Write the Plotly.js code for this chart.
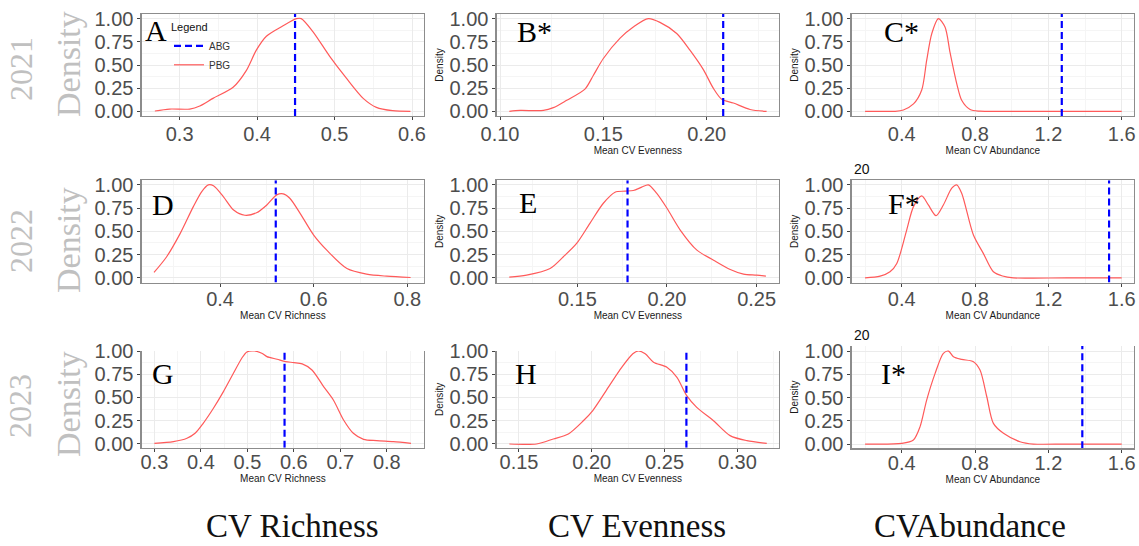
<!DOCTYPE html>
<html>
<head>
<meta charset="utf-8">
<script src="https://cdn.plot.ly/plotly-3.0.1.min.js"></script>
<style>html,body{margin:0;padding:0;background:#fff;}#chart{width:1139px;height:546px;}</style>
</head>
<body>
<div id="chart"></div>
<script>
// ---- data (normalised density) ----
const xA = [0.268,0.287,0.313,0.326,0.343,0.369,0.386,0.399,0.412,0.433,0.451,0.457,0.472,0.494,0.515,0.537,0.554,0.575,0.598];
const yA = [0.004,0.025,0.025,0.058,0.14,0.26,0.44,0.66,0.81,0.92,1.0,1.0,0.86,0.59,0.36,0.14,0.043,0.007,0.0];
const xB = [0.1045,0.1097,0.121,0.1258,0.1323,0.1411,0.1452,0.15,0.1581,0.1645,0.1718,0.1774,0.1855,0.1919,0.1984,0.2032,0.2073,0.2129,0.221,0.229];
const yB = [0,0.01,0.01,0.04,0.12,0.24,0.39,0.57,0.79,0.91,1.0,0.96,0.84,0.66,0.45,0.25,0.13,0.09,0.02,0.0];
const xC = [0.2,0.3,0.364,0.409,0.464,0.509,0.536,0.564,0.6,0.636,0.664,0.7,0.727,0.773,0.827,1.0,1.3,1.6];
const yC = [0,0,0,0.015,0.08,0.23,0.55,0.84,1.0,0.91,0.63,0.30,0.12,0.02,0.002,0,0,0];
const xD = [0.259,0.286,0.315,0.343,0.361,0.375,0.386,0.407,0.429,0.453,0.478,0.5,0.521,0.535,0.549,0.571,0.6,0.628,0.671,0.713,0.756,0.807];
const yD = [0.058,0.227,0.478,0.766,0.928,1.0,0.99,0.874,0.73,0.673,0.70,0.784,0.892,0.903,0.856,0.694,0.46,0.298,0.10,0.04,0.018,0.004];
const xE = [0.112,0.1217,0.1348,0.1422,0.1496,0.157,0.1645,0.171,0.1766,0.1812,0.1859,0.1896,0.1942,0.2,0.2074,0.2167,0.226,0.2353,0.2427,0.25,0.2552];
const yE = [0.007,0.029,0.10,0.227,0.37,0.586,0.802,0.921,0.932,0.939,0.975,1.0,0.91,0.748,0.514,0.298,0.19,0.09,0.04,0.029,0.018];
const xF = [0.2,0.282,0.336,0.373,0.427,0.464,0.509,0.545,0.587,0.627,0.673,0.7,0.727,0.791,0.845,0.9,0.95,1.009,1.3,1.6];
const yF = [0,0.018,0.065,0.155,0.514,0.766,0.881,0.784,0.669,0.784,0.964,1.0,0.91,0.46,0.263,0.065,0.02,0,0,0];
const xG = [0.3,0.341,0.37,0.3875,0.405,0.427,0.4485,0.47,0.488,0.499,0.515,0.531,0.542,0.564,0.582,0.6,0.618,0.639,0.664,0.685,0.707,0.728,0.75,0.778,0.814,0.852];
const yG = [0.007,0.025,0.061,0.115,0.222,0.384,0.563,0.76,0.922,0.99,1.0,0.976,0.94,0.911,0.886,0.875,0.861,0.796,0.617,0.473,0.258,0.115,0.05,0.036,0.025,0.007];
const xH = [0.1434,0.1621,0.1736,0.1839,0.1942,0.2007,0.2099,0.219,0.2282,0.232,0.2367,0.2424,0.2516,0.2585,0.2652,0.2721,0.2836,0.295,0.3065,0.3202];
const yH = [0,0,0.054,0.108,0.25,0.36,0.574,0.79,0.97,1.0,0.97,0.88,0.825,0.717,0.52,0.394,0.25,0.09,0.036,0.007];
const xI = [0.2,0.4,0.4636,0.5,0.536,0.582,0.627,0.655,0.682,0.727,0.791,0.827,0.864,0.9,0.955,1.045,1.118,1.3,1.6];
const yI = [0,0.007,0.043,0.187,0.473,0.76,0.976,1.0,0.94,0.911,0.886,0.796,0.509,0.222,0.115,0.025,0,0,0];

// observed (ABG) values: dashed blue lines
const abgValues = [0.449,0.208,1.273,0.519,0.178,1.531,0.58,0.265,1.385];

// labels
const panelLetters = ['A','B*','C*','D','E','F*','G','H','I*'];
const rowLabels = ['2021','2022','2023'];
const columnTitles = ['CV Richness','CV Evenness','CVAbundance'];
const xAxisTitles = ['', 'Mean CV Evenness', 'Mean CV Abundance', 'Mean CV Richness', 'Mean CV Evenness', 'Mean CV Abundance', 'Mean CV Richness', 'Mean CV Evenness', 'Mean CV Abundance'];
const legendNames = ['ABG','PBG'];

// tick labels
const yTickVals = [0,0.25,0.5,0.75,1];
const yTickText = ['0.00','0.25','0.50','0.75','1.00'];
const xTickValsA = [0.3,0.4,0.5,0.6];            const xTickTextA = ['0.3','0.4','0.5','0.6'];
const xTickValsB = [0.10,0.15,0.20];             const xTickTextB = ['0.10','0.15','0.20'];
const xTickValsAb = [0.4,0.8,1.2,1.6];           const xTickTextAb = ['0.4','0.8','1.2','1.6'];
const xTickValsD = [0.4,0.6,0.8];                const xTickTextD = ['0.4','0.6','0.8'];
const xTickValsE = [0.15,0.20,0.25];             const xTickTextE = ['0.15','0.20','0.25'];
const xTickValsG = [0.3,0.4,0.5,0.6,0.7,0.8];    const xTickTextG = ['0.3','0.4','0.5','0.6','0.7','0.8'];
const xTickValsH = [0.15,0.20,0.25,0.30];        const xTickTextH = ['0.15','0.20','0.25','0.30'];

// ---- layout geometry ----
const W = 1139, H = 546;
const px = v => v / W;
const py = v => 1 - v / H;

const panels = [
  {x:xA, y:yA, tv:xTickValsA, tt:xTickTextA, xr:[0.251,0.6155], minor:0.05,  col:0, yd:[py(116),py(14)],   yr:[-0.05,1.05], ytitle:false, mirrorTop:true,  xs:-3},
  {x:xB, y:yB, tv:xTickValsB, tt:xTickTextB, xr:[0.0984,0.235], minor:0.025, col:1, yd:[py(116),py(14)],   yr:[-0.05,1.05], ytitle:true,  mirrorTop:true,  xs:-3},
  {x:xC, y:yC, tv:xTickValsAb,tt:xTickTextAb,xr:[0.127,1.667],  minor:0.2,   col:2, yd:[py(116),py(14)],   yr:[-0.05,1.05], ytitle:true,  mirrorTop:true,  xs:-3},
  {x:xD, y:yD, tv:xTickValsD, tt:xTickTextD, xr:[0.2327,0.8356],minor:0.1,   col:0, yd:[py(282.5),py(180.2)], yr:[-0.05,1.05], ytitle:false, mirrorTop:true, xs:-5},
  {x:xE, y:yE, tv:xTickValsE, tt:xTickTextE, xr:[0.105,0.2625], minor:0.025, col:1, yd:[py(282.5),py(180.2)], yr:[-0.05,1.05], ytitle:true,  mirrorTop:true, xs:-5},
  {x:xF, y:yF, tv:xTickValsAb,tt:xTickTextAb,xr:[0.127,1.667],  minor:0.2,   col:2, yd:[py(282.5),py(180.2)], yr:[-0.05,1.05], ytitle:true,  mirrorTop:true, xs:-5},
  {x:xG, y:yG, tv:xTickValsG, tt:xTickTextG, xr:[0.2727,0.880], minor:0.05,  col:0, yd:[py(447.7),py(351)],   yr:[-0.04,1.0],  ytitle:false, mirrorTop:false, xs:-7},
  {x:xH, y:yH, tv:xTickValsH, tt:xTickTextH, xr:[0.1347,0.3286],minor:0.025, col:1, yd:[py(447.7),py(351)],   yr:[-0.04,1.0],  ytitle:true,  mirrorTop:false, xs:-7},
  {x:xI, y:yI, tv:xTickValsAb,tt:xTickTextAb,xr:[0.127,1.667],  minor:0.2,   col:2, yd:[py(448.3),py(346)],   yr:[-0.046,1.055], ytitle:true, mirrorTop:false, xs:-7}
];
const colDomains = [[px(141.7),px(424)],[px(496.7),px(779)],[px(851.7),px(1134)]];

const tickFont = {family:'Liberation Sans, Arial, sans-serif', size:20, color:'#4d4d4d'};
const smallFont = {family:'Liberation Sans, Arial, sans-serif', size:10, color:'#1a1a1a'};
const borderColor = '#8c8c8c';

const data = [];
const layout = {
  width: W, height: H,
  margin: {l:0, r:0, t:0, b:0, pad:0},
  paper_bgcolor: '#ffffff',
  plot_bgcolor: '#ffffff',
  showlegend: true,
  legend: {
    x: px(169), y: py(17), xanchor:'left', yanchor:'top',
    bgcolor:'rgba(0,0,0,0)', borderwidth:0,
    font: {family:'Liberation Sans, Arial, sans-serif', size:10, color:'#333'},
    title: {text:'Legend', font:{family:'Liberation Sans, Arial, sans-serif', size:11, color:'#111'}},
    itemwidth: 30, tracegroupgap: 0
  },
  annotations: [],
  shapes: []
};

panels.forEach((p, i) => {
  const n = i + 1;
  const xa = 'x' + (n === 1 ? '' : n), ya = 'y' + (n === 1 ? '' : n);
  const xkey = 'xaxis' + (n === 1 ? '' : n), ykey = 'yaxis' + (n === 1 ? '' : n);
  // density curve (PBG)
  data.push({
    type:'scatter', mode:'lines', x:p.x, y:p.y, xaxis:xa, yaxis:ya,
    name: legendNames[1], showlegend: i === 0, legendrank: 2,
    line:{color:'#ff5a5a', width:1.2, shape:'spline', smoothing:0.8},
    hoverinfo:'skip'
  });
  // observed value (ABG)
  data.push({
    type:'scatter', mode:'lines', x:[abgValues[i], abgValues[i]], y:[p.yr[0], p.yr[1]], xaxis:xa, yaxis:ya,
    name: legendNames[0], showlegend: i === 0, legendrank: 1,
    line:{color:'#0000ff', width:2.2, dash:'7px,4px'},
    hoverinfo:'skip'
  });
  layout[xkey] = {
    domain: colDomains[p.col], range: p.xr, anchor: ya,
    tickmode:'array', tickvals:p.tv, ticktext:p.tt,
    tickfont: tickFont, ticks:'outside', ticklen:3, tickcolor:'#444',
    ticklabelstandoff: p.xs,
    showgrid:true, gridcolor:'#ebebeb', gridwidth:1,
    minor:{showgrid:true, gridcolor:'#f5f5f5', gridwidth:1, dtick:p.minor, tick0:0},
    showline:true, linecolor:borderColor, linewidth:1.3, mirror:p.mirrorTop,
    zeroline:false, fixedrange:true,
    title: {text: xAxisTitles[i], font: smallFont, standoff: 1}
  };
  layout[ykey] = {
    domain: p.yd, range: p.yr, anchor: xa,
    tickmode:'array', tickvals:yTickVals, ticktext:yTickText,
    tickfont: tickFont, ticks:'outside', ticklen:3, tickcolor:'#444',
    showgrid:true, gridcolor:'#ebebeb', gridwidth:1,
    minor:{showgrid:true, gridcolor:'#f5f5f5', gridwidth:1, dtick:0.125, tick0:0},
    showline:true, linecolor:borderColor, linewidth:1.3, mirror:true,
    zeroline:false, fixedrange:true,
    title: {text: p.ytitle ? 'Density' : '', font: smallFont, standoff: 4}
  };
});

// panel letters
const letterPos = [[143,30.3],[515,31],[881.7,31.7],[150,204],[516.7,202.5],[886,203],[150,373],[512.7,373.5],[879.3,373]];
panelLetters.forEach((t, i) => {
  layout.annotations.push({
    xref:'paper', yref:'paper', x:px(letterPos[i][0]), y:py(letterPos[i][1]),
    xanchor:'left', yanchor:'middle', showarrow:false, text:t,
    font:{family:'Liberation Serif, Times New Roman, serif', size:30, color:'#000'}
  });
});

// row labels (year + Density), light grey, rotated
const rowYearPos = [[21,69],[21,241],[20,406]];
const rowDensPos = [[68,64],[68,240],[68,404]];
rowLabels.forEach((t, i) => {
  layout.annotations.push({
    xref:'paper', yref:'paper', x:px(rowYearPos[i][0]), y:py(rowYearPos[i][1]),
    xanchor:'center', yanchor:'middle', showarrow:false, text:t, textangle:-90,
    font:{family:'Liberation Serif, Times New Roman, serif', size:32, color:'#c0c0c0'}
  });
  layout.annotations.push({
    xref:'paper', yref:'paper', x:px(rowDensPos[i][0]), y:py(rowDensPos[i][1]),
    xanchor:'center', yanchor:'middle', showarrow:false, text:'Density', textangle:-90,
    font:{family:'Liberation Serif, Times New Roman, serif', size:34, color:'#c0c0c0'}
  });
});

// column titles
const colTitleX = [292.5, 636.5, 969.5];
columnTitles.forEach((t, i) => {
  layout.annotations.push({
    xref:'paper', yref:'paper', x:px(colTitleX[i]), y:py(545.5),
    xanchor:'center', yanchor:'bottom', showarrow:false, text:t,
    font:{family:'Liberation Serif, Times New Roman, serif', size:33, color:'#111'}
  });
});

// small leftover title fragments
[[852,169],[852,335]].forEach(pos => {
  layout.annotations.push({
    xref:'paper', yref:'paper', x:px(pos[0]), y:py(pos[1]),
    xanchor:'left', yanchor:'middle', showarrow:false, text:'20',
    font:{family:'Liberation Sans, Arial, sans-serif', size:14, color:'#111'}
  });
});

Plotly.newPlot('chart', data, layout, {displayModeBar:false, staticPlot:true});
</script>
</body>
</html>
